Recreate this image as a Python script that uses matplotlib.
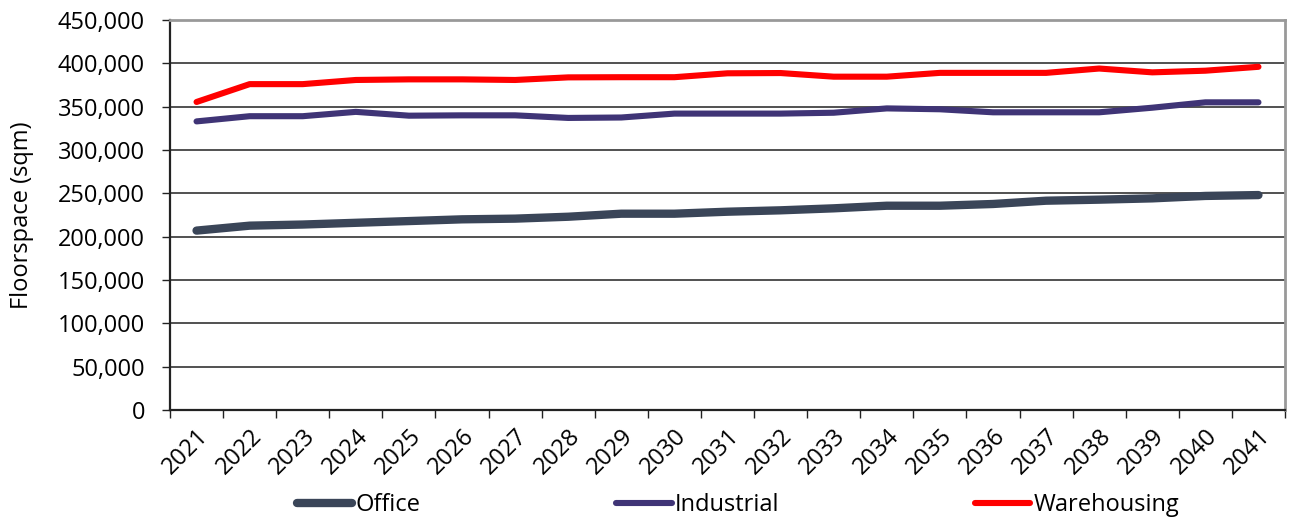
import matplotlib
matplotlib.use("Agg")
import matplotlib.pyplot as plt
from matplotlib.ticker import FuncFormatter, MultipleLocator, FixedLocator

plt.rcParams['font.family'] = ['Open Sans', 'DejaVu Sans']

years = [str(y) for y in range(2021, 2042)]
office = [207000, 212700, 214000, 216000, 218000, 220000, 220800, 223000, 226500, 226500,
          228800, 230400, 232700, 235700, 235700, 237700, 241500, 242700, 244200, 247000, 248000]
industrial = [333000, 339000, 339000, 344000, 339600, 340000, 340000, 337000, 337500, 342000,
              342000, 342000, 343000, 348000, 347000, 343500, 343500, 343500, 348800, 355000, 355000]
warehousing = [355400, 376000, 376000, 380800, 381500, 381500, 380800, 383800, 384000, 384000,
               388500, 388800, 384600, 384600, 389000, 389000, 389000, 394000, 389600, 391500, 396000]

series = [
    ("Office", office, "#3a4558", 6.0),
    ("Industrial", industrial, "#3f3476", 4.4),
    ("Warehousing", warehousing, "#ff0000", 4.4),
]

FS = 17

fig = plt.figure(figsize=(12.91, 5.20), dpi=100)
ax = fig.add_axes([170 / 1291, 1 - 410 / 520, 1115 / 1291, 390 / 520])

x = list(range(len(years)))
for name, vals, color, lw in series:
    ax.plot(x, vals, color=color, lw=lw, label=name,
            solid_capstyle='round', solid_joinstyle='round', zorder=3)

ax.set_xlim(-0.5, len(years) - 0.5)
ax.set_ylim(0, 450000)
ax.yaxis.set_major_locator(MultipleLocator(50000))
ax.yaxis.set_major_formatter(FuncFormatter(lambda v, p: f"{int(v):,}"))
ax.grid(axis='y', color='#222222', lw=1.1, zorder=1)
ax.set_axisbelow(True)

# category labels centred on each year, ticks on the boundaries
ax.set_xticks(x)
ax.set_xticklabels(years, rotation=45, ha='right', va='top', rotation_mode='anchor')
ax.tick_params(axis='x', which='major', length=0, pad=10, labelsize=FS)
ax.xaxis.set_minor_locator(FixedLocator([i - 0.5 for i in range(len(years) + 1)]))
ax.tick_params(axis='x', which='minor', length=6, width=1.0, color='#222222', direction='out')
ax.tick_params(axis='y', length=6, width=1.0, color='#222222', pad=12, labelsize=FS)

for s in ['left', 'bottom']:
    ax.spines[s].set_color('#222222')
    ax.spines[s].set_linewidth(1.6)
for s in ['top', 'right']:
    ax.spines[s].set_color('#999999')
    ax.spines[s].set_linewidth(2.0)

ax.set_ylabel("Floorspace (sqm)", fontsize=FS, labelpad=17)

fig.legend(loc='center', bbox_to_anchor=(738 / 1291, 1 - 505 / 520), ncol=3,
           frameon=False, fontsize=FS, handlelength=2.35, handletextpad=0.12,
           columnspacing=8.3)

fig.savefig("out.png", dpi=100)
